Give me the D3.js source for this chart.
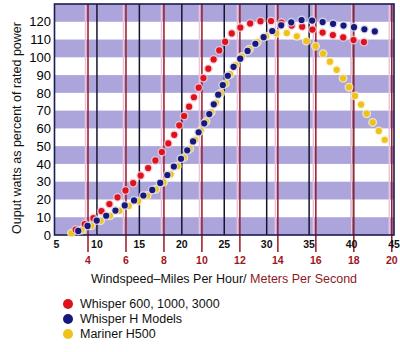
<!DOCTYPE html>
<html>
<head>
<meta charset="utf-8">
<script src="https://cdn.jsdelivr.net/npm/d3@7"></script>
<style>
  html, body { margin: 0; padding: 0; background: #fff; }
  svg { display: block; font-family: "Liberation Sans", Arial, Helvetica, sans-serif; }
</style>
</head>
<body>
<svg id="chart" width="400" height="352"></svg>
<script>
// ---- data ----
const redSpeeds = [7.5, 8, 9, 10, 11, 12, 13, 14, 15, 16, 17, 18, 19, 20, 21, 22, 23, 24, 25, 26, 27, 28, 29, 30, 31, 32, 33, 34, 35, 36, 37, 38, 39, 40, 41, 42, 42.6];
const redPower  = [3, 4.5, 7.5, 11, 15.5, 19.5, 23.5, 28, 32.7, 37.5, 42.6, 49, 55.5, 64.5, 73.5, 83, 92.5, 100.8, 108, 114, 117, 119, 120.2, 120.5, 120.3, 119.2, 117.8, 117.4, 116.2, 114.7, 113.4, 112.3, 111.2, 110, 109, 108.1, 107.6];

const blueSpeeds = [7.8, 9, 10, 11, 12, 13, 14, 15, 16, 17, 18, 19, 20, 21, 22, 23, 24, 25, 26, 27, 28, 29, 30, 31, 32, 33, 34, 35, 36, 37, 38, 39, 40, 41, 42, 43.1];
const bluePower  = [2.3, 5.4, 8.2, 10.6, 13.3, 15.9, 18.5, 21.1, 23.6, 27.3, 32, 38.2, 43.5, 50.2, 58, 65.8, 76, 86, 94, 99.9, 104.7, 109, 112.6, 115.9, 118.7, 119.8, 121, 120.8, 120.3, 119.5, 118.7, 117.9, 117.2, 116.3, 115.3, 114.2];

const yellowSpeeds = [7, 8, 9, 10, 11, 12, 13, 14, 15, 16, 17, 18, 19, 20, 21, 22, 23, 24, 25, 26, 27, 28, 29, 30, 31, 32, 33, 34, 35, 36, 37, 38, 39, 40, 41, 42, 43, 44];
const yellowPower  = [1, 2.5, 4.5, 7, 9.5, 12, 14.5, 17, 19.5, 22.5, 26, 30.5, 36, 42, 49, 57, 65, 74, 84, 93, 100, 104.8, 109, 112, 113.4, 113.8, 113, 110.7, 108.3, 105.4, 100, 94.4, 88.2, 81, 74.3, 66.6, 60, 53];

const seriesNames = ["Whisper 600, 1000, 3000", "Whisper H Models", "Mariner H500"];
const seriesColors = ["#dc121c", "#16187a", "#eec21a"];

const mphTicks = [5, 10, 15, 20, 25, 30, 35, 40, 45];
const msTicks = [4, 6, 8, 10, 12, 14, 16, 18, 20];
const powerTicks = [0, 10, 20, 30, 40, 50, 60, 70, 80, 90, 100, 110, 120];
const bandStarts = [0, 20, 40, 60, 80, 100, 120];

const MS_TO_MPH = 2.23694;

// ---- layout ----
const svg = d3.select("#chart");
const L = 54.5, R = 394, T = 4, B = 235;

const x = d3.scaleLinear().domain([5, 45]).range([L, R]);
const y = d3.scaleLinear().domain([0, 130]).range([B, T]);

// bands
svg.append("g").selectAll("rect").data(bandStarts).join("rect")
  .attr("x", L).attr("width", R - L)
  .attr("y", d => y(Math.min(d + 10, 130)))
  .attr("height", d => y(d) - y(Math.min(d + 10, 130)))
  .attr("fill", "#aba5dc");

// mph grid lines (black)
svg.append("g").selectAll("line").data(mphTicks.filter(d => d > 5 && d < 45)).join("line")
  .attr("x1", d => x(d)).attr("x2", d => x(d))
  .attr("y1", T).attr("y2", B)
  .attr("stroke", "#15152a").attr("stroke-width", 1.5);

// m/s grid lines (dark red) with light halos, extending below the plot as ticks
const msG = svg.append("g");
msG.selectAll("line.halo").data(msTicks).join("line").attr("class", "halo")
  .attr("x1", d => x(d * MS_TO_MPH) - 2.5).attr("x2", d => x(d * MS_TO_MPH) - 2.5)
  .attr("y1", T).attr("y2", B)
  .attr("stroke", "#e9c3e0").attr("stroke-width", 1.5);
msG.selectAll("line.ms").data(msTicks).join("line").attr("class", "ms")
  .attr("x1", d => x(d * MS_TO_MPH)).attr("x2", d => x(d * MS_TO_MPH))
  .attr("y1", T).attr("y2", 252)
  .attr("stroke", "#9c1820").attr("stroke-width", 1.5);

// frame
svg.append("rect").attr("x", L).attr("y", T).attr("width", R - L).attr("height", B - T)
  .attr("fill", "none").attr("stroke", "#1c1c50").attr("stroke-width", 1.6);

// dotted series
const series = [
  { speeds: yellowSpeeds, power: yellowPower, color: seriesColors[2], halo: "#fbf0c0" },
  { speeds: redSpeeds, power: redPower, color: seriesColors[0], halo: "#f6c6d0" },
  { speeds: blueSpeeds, power: bluePower, color: seriesColors[1], halo: "#d8d8f0" }
];
const line = d3.line().x(d => x(d[0])).y(d => y(d[1])).curve(d3.curveMonotoneX);
series.forEach(s => {
  const pts = s.speeds.map((v, i) => [v, s.power[i]]);
  svg.append("path").datum(pts).attr("d", line)
    .attr("fill", "none").attr("stroke", s.halo).attr("stroke-width", 9)
    .attr("stroke-linecap", "round").attr("stroke-dasharray", "0 10.6").attr("opacity", 0.8);
  svg.append("path").datum(pts).attr("d", line)
    .attr("fill", "none").attr("stroke", s.color).attr("stroke-width", 6.2)
    .attr("stroke-linecap", "round").attr("stroke-dasharray", "0 10.6");
});

// y tick labels
svg.append("g").selectAll("text").data(powerTicks).join("text")
  .attr("x", 51).attr("y", d => y(d)).attr("dy", "0.36em")
  .attr("text-anchor", "end").attr("font-size", 13).attr("fill", "#000")
  .text(d => d);

// mph labels
svg.append("g").selectAll("text").data(mphTicks).join("text")
  .attr("x", d => x(d) + (d === 5 ? 2 : 0)).attr("y", 248)
  .attr("text-anchor", "middle").attr("font-size", 10.5).attr("font-weight", "bold")
  .attr("fill", "#111").text(d => d);

// m/s labels
svg.append("g").selectAll("text").data(msTicks).join("text")
  .attr("x", d => x(d * MS_TO_MPH)).attr("y", 264)
  .attr("text-anchor", "middle").attr("font-size", 10.5).attr("font-weight", "bold")
  .attr("fill", "#a0141c").text(d => d);

// x axis title
const xt = svg.append("text").attr("x", 224).attr("y", 283)
  .attr("text-anchor", "middle").attr("font-size", 12.5);
xt.append("tspan").attr("fill", "#111").text("Windspeed\u2013Miles Per Hour/ ");
xt.append("tspan").attr("fill", "#8e1a1e").text("Meters Per Second");

// y axis title
svg.append("text").attr("transform", "translate(21,128) rotate(-90)")
  .attr("text-anchor", "middle").attr("font-size", 12.5).attr("fill", "#111")
  .text("Ouput watts as percent of rated power");

// legend
const lg = svg.append("g").selectAll("g").data(seriesNames).join("g")
  .attr("transform", (d, i) => `translate(68,${304 + i * 15})`);
lg.append("circle").attr("r", 5).attr("fill", (d, i) => seriesColors[i]);
lg.append("text").attr("x", 12).attr("dy", "0.35em").attr("font-size", 12.5)
  .attr("fill", "#111").text(d => d);
</script>
</body>
</html>
